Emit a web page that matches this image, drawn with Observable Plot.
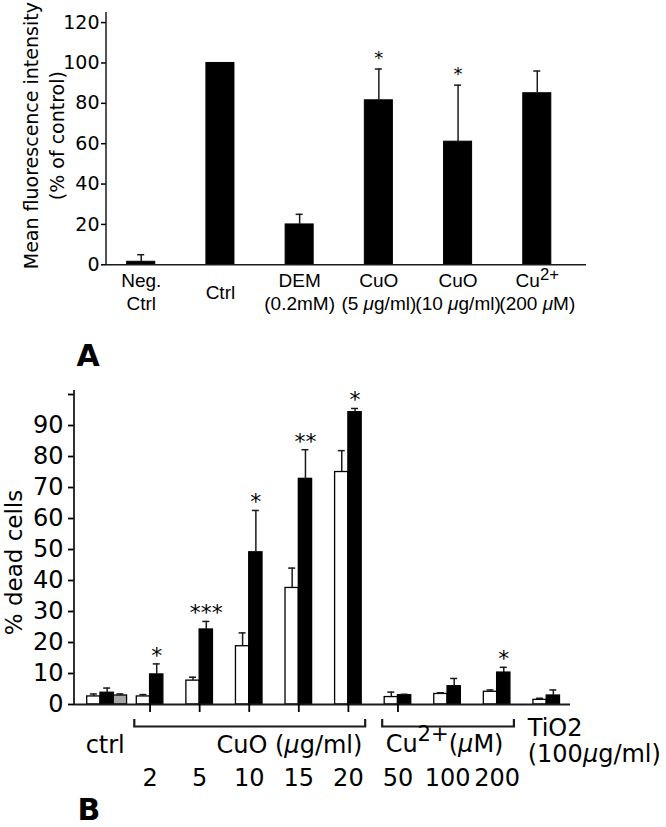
<!DOCTYPE html>
<html><head><meta charset="utf-8">
<script src="https://cdn.jsdelivr.net/npm/d3@7"></script>
<script src="https://cdn.jsdelivr.net/npm/@observablehq/plot@0.6"></script>
<style>
body{margin:0;background:#fff;}
#wrap{position:relative;width:666px;height:827px;overflow:hidden;background:#fff;}
#wrap svg{position:absolute;left:0;}
</style></head><body><div id="wrap"></div>
<script>
// ---------- Panel A data ----------
const catsA = ["Neg.\nCtrl", "Ctrl", "DEM\n(0.2mM)", "CuO\n(5 μg/ml)", "CuO\n(10 μg/ml)", "Cu2+\n(200 μM)"];
const meanA = [1.5, 100, 20, 81.5, 61, 85];
const errA  = [3.5, 0, 5, 15.5, 28, 11];
const sigA  = ["", "", "", "*", "*", ""];
const ticksA = [0, 20, 40, 60, 80, 100, 120];
const yLabelA = "Mean fluorescence intensity\n(% of control)";
const panelA = "A";

// ---------- Panel B data ----------
const groupsB = ["ctrl", "CuO 2", "CuO 5", "CuO 10", "CuO 15", "CuO 20", "Cu 50", "Cu 100", "Cu 200", "TiO2"];
const whiteB    = [2.6, 2.6, 7.7, 18.8, 37.6, 75.0, 2.4, 3.4, 4.1, 1.5];
const whiteErrB = [0.8, 0.6, 1.1, 4.3, 6.4, 6.9, 1.6, 0.4, 0.6, 0.5];
const blackB    = [3.8, 9.7, 24.2, 49.1, 72.8, 94.3, 3.0, 5.9, 10.3, 2.9];
const blackErrB = [1.5, 3.4, 2.6, 13.5, 9.4, 1.2, 0.3, 2.5, 1.7, 1.8];
const grayB     = [2.9, null, null, null, null, null, null, null, null, null];
const grayErrB  = [0.5, null, null, null, null, null, null, null, null, null];
const sigB      = ["", "*", "***", "*", "**", "*", "", "", "*", ""];
const doseB     = ["", "2", "5", "10", "15", "20", "50", "100", "200", ""];
const ticksB = [0, 10, 20, 30, 40, 50, 60, 70, 80, 90, 100];
const tickLabelsB = ["0", "10", "20", "30", "40", "50", "60", "70", "80", "90", ""];
const xTicksB = ["CuO 2", "CuO 5", "CuO 10", "CuO 15", "CuO 20", "Cu 50"];
const labelCtrlB = "ctrl";
const labelCuOB = "CuO (μg/ml)";
const labelCuB = "Cu2+(μM)";
const labelTiB = "TiO2\n(100μg/ml)";
const bracketCuO = ["CuO 2", "CuO 20"];
const bracketCu = ["Cu 50", "Cu 200"];
const yLabelB = "% dead cells";
const panelB = "B";

// ---------- helpers ----------
const W = 666;
const FONT = "DejaVu Sans";
const FONT2 = "Liberation Sans";
const INK = "#1a1a1a";
const NS = "http://www.w3.org/2000/svg";

function leftLine(sw) {
  return (index, scales, values, dims) => {
    const l = document.createElementNS(NS, "line");
    l.setAttribute("x1", dims.marginLeft); l.setAttribute("x2", dims.marginLeft);
    l.setAttribute("y1", dims.marginTop); l.setAttribute("y2", dims.height - dims.marginBottom);
    l.setAttribute("stroke", INK); l.setAttribute("stroke-width", sw);
    return l;
  };
}

function decorate(svg, shift) {
  const walker = document.createTreeWalker(svg, NodeFilter.SHOW_TEXT);
  const nodes = [];
  while (walker.nextNode()) nodes.push(walker.currentNode);
  for (const node of nodes) {
    const s = node.nodeValue;
    if (!/Cu2\+|μ/.test(s)) continue;
    const frag = document.createDocumentFragment();
    for (const p of s.split(/(Cu2\+|μ)/)) {
      if (!p) continue;
      if (p === "Cu2+") {
        frag.appendChild(document.createTextNode("Cu"));
        const t = document.createElementNS(NS, "tspan");
        t.setAttribute("baseline-shift", shift);
        t.setAttribute("font-size", "0.88em");
        t.textContent = "2+";
        frag.appendChild(t);
      } else if (p === "μ") {
        const t = document.createElementNS(NS, "tspan");
        t.setAttribute("font-style", "italic");
        t.textContent = "μ";
        frag.appendChild(t);
      } else frag.appendChild(document.createTextNode(p));
    }
    node.parentNode.replaceChild(frag, node);
  }
}

// ---------- Panel A ----------
const rowsA = catsA.map((c, i) => ({cat: c, mean: meanA[i], err: errA[i], sig: sigA[i]}));
const mA = {top: 12, bottom: 105.7, left: 106, right: 80, insL: 20.7, insR: 35.2, pad: 0.646};
const rA0 = mA.left + mA.insL, rA1 = W - mA.right - mA.insR;
const stepA = (rA1 - rA0) / (catsA.length - mA.pad);
const bwA = stepA * (1 - mA.pad);
const capA = 7;
const errRowsA = rowsA.filter(d => d.err > 0);

const plotA = Plot.plot({
  width: W, height: 370,
  marginTop: mA.top, marginBottom: mA.bottom, marginLeft: mA.left, marginRight: mA.right,
  style: {fontFamily: FONT, fontSize: "19px", color: "#000", background: "transparent", overflow: "visible"},
  x: {type: "band", domain: catsA, range: [rA0, rA1], paddingInner: mA.pad, paddingOuter: 0, round: false, axis: null},
  y: {domain: [0, 125]},
  marks: [
    Plot.barY(rowsA, {x: "cat", y: "mean", fill: "#000", stroke: "#000", strokeWidth: 1}),
    Plot.ruleX(errRowsA, {x: "cat", y1: "mean", y2: d => d.mean + d.err, stroke: INK, strokeWidth: 1.5}),
    Plot.tickY(errRowsA, {x: "cat", y: d => d.mean + d.err, insetLeft: (bwA - capA) / 2, insetRight: (bwA - capA) / 2, stroke: INK, strokeWidth: 1.5}),
    Plot.text(rowsA.filter(d => d.sig), {x: "cat", y: d => d.mean + d.err, text: "sig", dy: -5, lineAnchor: "bottom", fontSize: 18, fill: "#000"}),
    Plot.ruleY([0], {stroke: INK, strokeWidth: 1.5}),
    Plot.axisY({ticks: ticksA, tickSize: 5, tickPadding: 2, fontSize: 19, label: null, strokeWidth: 1.5}),
    leftLine(1.5),
    Plot.text(rowsA, {x: "cat", y: 0, text: "cat", dy: 26.8, lineAnchor: "middle", lineHeight: 1.21, fontSize: 19, fontFamily: FONT2}),
    Plot.text([yLabelA], {frameAnchor: "left", textAnchor: "middle", rotate: -90, dx: -63.8, dy: -3, lineHeight: 1.38, fontSize: 19}),
    Plot.text([panelA], {frameAnchor: "bottom-left", dx: -30, dy: 100.7, textAnchor: "start", lineAnchor: "bottom", fontSize: 30, fontWeight: "bold"})
  ]
});
plotA.style.top = "0px";
decorate(plotA, "0.4em");
document.getElementById("wrap").appendChild(plotA);

// ---------- Panel B ----------
const rowsB = groupsB.flatMap((g, i) => [
  {g, s: "white", v: whiteB[i], e: whiteErrB[i]},
  {g, s: "black", v: blackB[i], e: blackErrB[i], sig: sigB[i]},
  ...(grayB[i] != null ? [{g, s: "gray", v: grayB[i], e: grayErrB[i]}] : [])
]);
const mB = {top: 20, bottom: 123, left: 74, right: 96, insL: 19.35, insR: 17.15, pad: 0.732};
const rB0 = mB.left + mB.insL, rB1 = W - mB.right - mB.insR;
const stepB = (rB1 - rB0) / (groupsB.length - mB.pad);
const bwB = stepB * (1 - mB.pad);
const capB = 7;
const offsetB = {white: -0.5, black: 0.5, gray: 1.5};
const fillB = {white: "#fff", black: "#000", gray: "#a6a6a6"};

const seriesMarks = [];
for (const s of ["white", "black", "gray"]) {
  const rows = rowsB.filter(d => d.s === s);
  const dx = offsetB[s] * bwB;
  seriesMarks.push(
    Plot.barY(rows, {x: "g", y: "v", dx, fill: fillB[s], stroke: "#000", strokeWidth: 1.3}),
    Plot.ruleX(rows, {x: "g", y1: "v", y2: d => d.v + d.e, dx, stroke: INK, strokeWidth: 1.5}),
    Plot.tickY(rows, {x: "g", y: d => d.v + d.e, dx, insetLeft: (bwB - capB) / 2, insetRight: (bwB - capB) / 2, stroke: INK, strokeWidth: 1.5})
  );
}

function brackets(index, scales, values, dims) {
  const x = scales.x;
  const bw = x.bandwidth ? x.bandwidth() : bwB;
  const y0 = dims.height - dims.marginBottom;
  const g = document.createElementNS(NS, "g");
  for (const [a, b] of [bracketCuO, bracketCu]) {
    const x1 = x(a) - bw / 2 - 2, x2 = x(b) + 1.5 * bw + 4;
    const p = document.createElementNS(NS, "path");
    p.setAttribute("d", `M${x1},${y0 + 15}V${y0 + 22.5}H${x2}V${y0 + 15}`);
    p.setAttribute("fill", "none"); p.setAttribute("stroke", INK); p.setAttribute("stroke-width", 2.2);
    g.appendChild(p);
  }
  return g;
}

const doseRows = groupsB.map((g, i) => ({g, t: doseB[i]})).filter(d => d.t);

const plotB = Plot.plot({
  width: W, height: 457,
  marginTop: mB.top, marginBottom: mB.bottom, marginLeft: mB.left, marginRight: mB.right,
  style: {fontFamily: FONT, fontSize: "24px", color: "#000", background: "transparent", overflow: "visible"},
  x: {type: "band", domain: groupsB, range: [rB0, rB1], paddingInner: mB.pad, paddingOuter: 0, round: false},
  y: {domain: [0, 101.3]},
  marks: [
    ...seriesMarks,
    Plot.text(rowsB.filter(d => d.sig), {x: "g", y: d => d.v + d.e, text: "sig", dx: 0.5 * bwB, dy: -1, lineAnchor: "bottom", fontSize: 22, fill: "#000"}),
    Plot.ruleY([0], {stroke: INK, strokeWidth: 1.8}),
    Plot.axisY({ticks: ticksB, tickFormat: d => tickLabelsB[ticksB.indexOf(d)], tickSize: 6, tickPadding: 5, fontSize: 24, label: null, strokeWidth: 1.8}),
    Plot.axisX({ticks: xTicksB, tickFormat: () => "", tickSize: 8, label: null, strokeWidth: 1.8}),
    leftLine(1.8),
    brackets,
    Plot.text(doseRows, {x: "g", y: 0, text: "t", dy: 81, lineAnchor: "bottom", fontSize: 24}),
    Plot.text([labelCtrlB], {x: () => groupsB[0], y: 0, dx: 4.7, dy: 48, lineAnchor: "bottom", fontSize: 24}),
    Plot.text([labelCuOB], {x: () => bracketCuO[1], y: 0, dx: 14, dy: 48, textAnchor: "end", lineAnchor: "bottom", fontSize: 24}),
    Plot.text([labelCuB], {x: () => groupsB[7], y: 0, dx: -3, dy: 47, lineAnchor: "bottom", fontSize: 24}),
    Plot.text([labelTiB], {x: () => groupsB[9], y: 0, dx: -19, dy: 57, textAnchor: "start", lineAnchor: "bottom", lineHeight: 1.083, fontSize: 24}),
    Plot.text([yLabelB], {frameAnchor: "left", textAnchor: "middle", rotate: -90, dx: -59.7, dy: 15, fontSize: 23}),
    Plot.text([panelB], {frameAnchor: "bottom-left", dx: 3, dy: 115, textAnchor: "start", lineAnchor: "bottom", fontSize: 30, fontWeight: "bold"})
  ]
});
plotB.style.top = "370px";
decorate(plotB, "0.5em");
document.getElementById("wrap").appendChild(plotB);
</script>
</body></html>
